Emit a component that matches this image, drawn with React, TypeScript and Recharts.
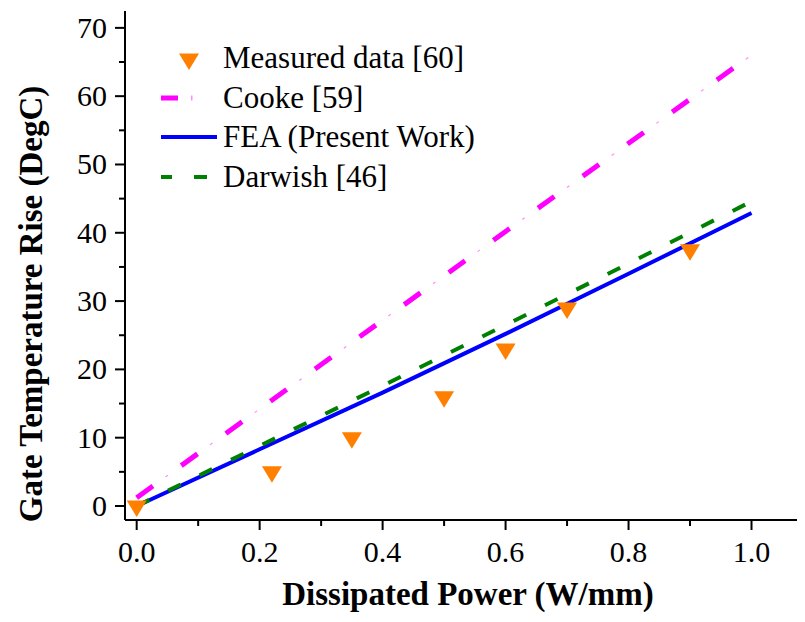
import React from 'react';
import { ComposedChart, Line, Scatter, XAxis, YAxis } from 'recharts';

// Line series share these x positions (W/mm)
const LINE_X = [0, 0.2, 0.4, 0.6, 0.8, 1.0];
const COOKE = [1.2, 14.2, 27.2, 40.2, 53.1, 66.0];
const FEA = [0, 8.3, 16.6, 25.2, 34.0, 42.9];
const DARWISH = [0, 8.8, 17.6, 26.5, 35.5, 44.6];

// Measured points
const MEASURED_X = [0, 0.22, 0.35, 0.5, 0.6, 0.7, 0.9];
const MEASURED_Y = [0, 5, 10, 16, 23, 29, 37.5];

const X_TICKS = [0, 0.1, 0.2, 0.3, 0.4, 0.5, 0.6, 0.7, 0.8, 0.9, 1.0];
const Y_TICKS = [0, 5, 10, 15, 20, 25, 30, 35, 40, 45, 50, 55, 60, 65, 70];

const LEGEND = ['Measured data [60]', 'Cooke [59]', 'FEA (Present Work)', 'Darwish [46]'];

const FONT = '"Liberation Serif", "Times New Roman", serif';
const W = 797;
const H = 614;

const cooke = LINE_X.map((x, i) => ({ x, y: COOKE[i] }));
const fea = LINE_X.map((x, i) => ({ x, y: FEA[i] }));
const darwish = LINE_X.map((x, i) => ({ x, y: DARWISH[i] }));
const measured = MEASURED_X.map((x, i) => ({ x, y: MEASURED_Y[i] }));

/** Downward triangle, centroid on the data point. */
function Triangle(props: any) {
  const { cx, cy } = props;
  if (cx == null || cy == null) return null;
  return <path d={`M${cx - 10},${cy - 5.5} L${cx + 10},${cy - 5.5} L${cx},${cy + 11} Z`} fill="#FF8000" />;
}

function XTick(props: any) {
  const { x, y, payload } = props;
  const v = payload.value;
  const major = Math.round(v * 10) % 2 === 0;
  return (
    <g>
      <line x1={x} x2={x} y1={y} y2={y + (major ? 10 : 6)} stroke="#000" strokeWidth={2} />
      {major && (
        <text x={x} y={y + 42} textAnchor="middle" fontFamily={FONT} fontSize={30} fill="#000">
          {v.toFixed(1)}
        </text>
      )}
    </g>
  );
}

function YTick(props: any) {
  const { x, y, payload } = props;
  const v = payload.value;
  const major = v % 10 === 0;
  return (
    <g>
      <line x1={x} x2={x - (major ? 10 : 6)} y1={y} y2={y} stroke="#000" strokeWidth={2} />
      {major && (
        <text x={x - 18} y={y + 10} textAnchor="end" fontFamily={FONT} fontSize={30} fill="#000">
          {v}
        </text>
      )}
    </g>
  );
}

export default function App() {
  return (
    <div style={{ position: 'relative', width: W, height: H, background: '#fff' }}>
      <ComposedChart width={W} height={H} margin={{ top: 3, right: 0, bottom: 0, left: 0 }}>
        <XAxis
          xAxisId="b"
          type="number"
          dataKey="x"
          domain={[-0.019, 1.087]}
          allowDataOverflow
          ticks={X_TICKS}
          interval={0}
          height={102}
          tickSize={0}
          tickMargin={0}
          tickLine={false}
          tick={<XTick />}
          axisLine={{ stroke: '#000', strokeWidth: 2 }}
        />
        <XAxis
          xAxisId="t"
          orientation="top"
          type="number"
          dataKey="x"
          domain={[-0.019, 1.087]}
          allowDataOverflow
          height={0}
          tick={false}
          tickLine={false}
          axisLine={{ stroke: '#000', strokeWidth: 2 }}
        />
        <YAxis
          type="number"
          dataKey="y"
          domain={[-2.05, 72.47]}
          allowDataOverflow
          ticks={Y_TICKS}
          interval={0}
          width={117}
          tickSize={0}
          tickMargin={0}
          tickLine={false}
          tick={<YTick />}
          axisLine={{ stroke: '#000', strokeWidth: 2 }}
        />
        <Scatter xAxisId="b" data={measured} dataKey="y" shape={<Triangle />} isAnimationActive={false} />
        <Line
          xAxisId="b"
          data={cooke}
          dataKey="y"
          type="linear"
          stroke="#FF00FF"
          strokeWidth={5}
          strokeDasharray="20 35"
          dot={false}
          activeDot={false}
          isAnimationActive={false}
        />
        <Line
          xAxisId="b"
          data={cooke}
          dataKey="y"
          type="linear"
          stroke="#FF8CFF"
          strokeWidth={1.2}
          strokeDasharray="0 35.5 3 16.5"
          dot={false}
          activeDot={false}
          isAnimationActive={false}
        />
        <Line
          xAxisId="b"
          data={fea}
          dataKey="y"
          type="linear"
          stroke="#0000FF"
          strokeWidth={4}
          dot={false}
          activeDot={false}
          isAnimationActive={false}
        />
        <Line
          xAxisId="b"
          data={darwish}
          dataKey="y"
          type="linear"
          stroke="#008000"
          strokeWidth={4}
          strokeDasharray="14 21"
          dot={false}
          activeDot={false}
          isAnimationActive={false}
        />
      </ComposedChart>

      <svg width={W} height={H} style={{ position: 'absolute', left: 0, top: 0, pointerEvents: 'none' }}>
        {/* axis titles */}
        <text
          transform="translate(34,296) rotate(-90)"
          textAnchor="middle"
          fontFamily={FONT}
          fontSize={33}
          fontWeight="bold"
          fill="#000"
        >
          Gate Temperature Rise (DegC)
        </text>
        <text x={460} y={597} textAnchor="middle" fontFamily={FONT} fontSize={33} fontWeight="bold" fill="#000">
          Dissipated Power (W/mm)
        </text>

        {/* legend */}
        <path d="M171,45.5 L191,45.5 L181,62 Z" fill="#FF8000" />
        <line x1={153} x2={170} y1={90} y2={90} stroke="#FF00FF" strokeWidth={5} />
        <line x1={183} x2={184.5} y1={90} y2={90} stroke="#FF8CFF" strokeWidth={5} />
        <line x1={153} x2={209} y1={129} y2={129} stroke="#0000FF" strokeWidth={4} />
        <line x1={153} x2={164} y1={169} y2={169} stroke="#008000" strokeWidth={4} />
        <line x1={186} x2={199} y1={169} y2={169} stroke="#008000" strokeWidth={4} />
        {LEGEND.map((t, i) => (
          <text key={t} x={215} y={60 + i * 39.7} fontFamily={FONT} fontSize={31} fill="#000">
            {t}
          </text>
        ))}
      </svg>
    </div>
  );
}
